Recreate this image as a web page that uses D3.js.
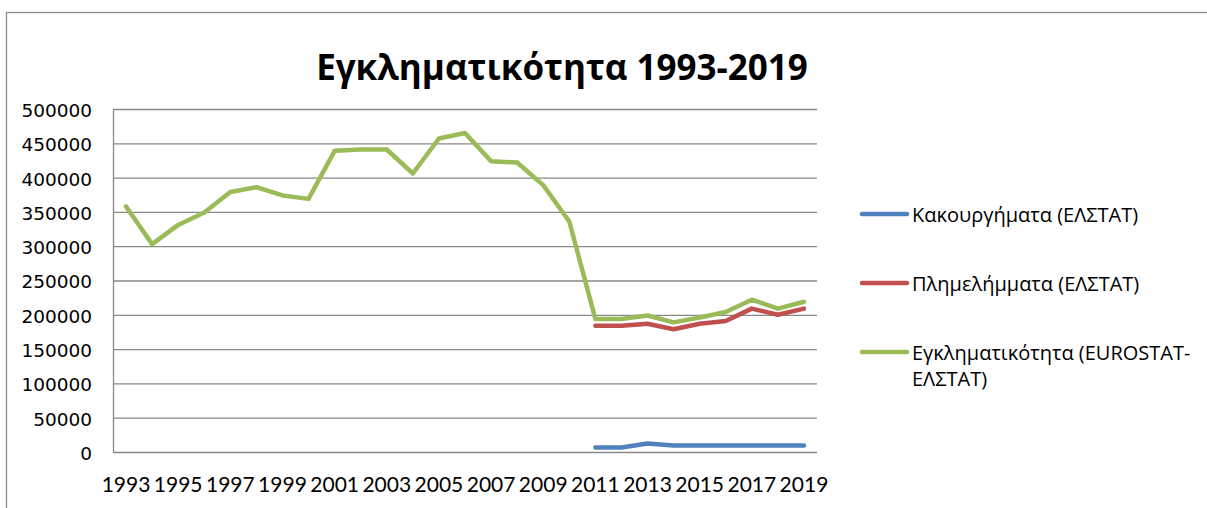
<!DOCTYPE html>
<html>
<head>
<meta charset="utf-8">
<script src="https://cdn.jsdelivr.net/npm/d3@7"></script>
<style>
  html, body { margin: 0; padding: 0; background: #ffffff; }
  svg { display: block; }
</style>
</head>
<body>
<svg id="chart" width="1207" height="508"></svg>
<script>
// ---- Data ----
const years = [1993, 1994, 1995, 1996, 1997, 1998, 1999, 2000, 2001, 2002, 2003, 2004, 2005, 2006,
               2007, 2008, 2009, 2010, 2011, 2012, 2013, 2014, 2015, 2016, 2017, 2018, 2019];
const xTickLabels = [1993, 1995, 1997, 1999, 2001, 2003, 2005, 2007, 2009, 2011, 2013, 2015, 2017, 2019];
const yTickValues = [0, 50000, 100000, 150000, 200000, 250000, 300000, 350000, 400000, 450000, 500000];

const seriesNames = ["Κακουργήματα (ΕΛΣΤΑΤ)", "Πλημελήμματα  (ΕΛΣΤΑΤ)", "Εγκληματικότητα (EUROSTAT-ΕΛΣΤΑΤ)"];
const felonies = [null, null, null, null, null, null, null, null, null, null, null, null, null, null,
                  null, null, null, null, 6500, 6500, 12500, 9500, 9500, 9500, 9500, 9500, 9500];
const misdemeanors = [null, null, null, null, null, null, null, null, null, null, null, null, null, null,
                      null, null, null, null, 184000, 184000, 187000, 179000, 187000, 191000, 209000, 200000, 209000];
const crimeTotal = [358000, 303000, 331000, 349000, 379000, 386000, 374000, 369000, 439000, 441000, 441000, 406000, 457000, 465000,
                    424000, 422000, 389000, 336000, 194000, 194000, 199000, 189000, 196000, 204000, 222000, 209000, 219000];
const seriesColors = ["#4F81BD", "#C0504D", "#9BBB59"];

// ---- Layout ----
const svg = d3.select("#chart");
const plot = { left: 113, right: 817, top: 109, bottom: 452 };
const gridColor = "#898989";

svg.append("rect").attr("x", 0).attr("y", 0).attr("width", 1207).attr("height", 508).attr("fill", "#fff");
// chart area border (extends past the image on right and bottom)
svg.append("rect")
  .attr("x", 6.5).attr("y", 12.5).attr("width", 1400).attr("height", 700)
  .attr("fill", "none").attr("stroke", "#8c8c8c").attr("stroke-width", 1.3);

// Title
svg.append("text")
  .attr("x", 562).attr("y", 80)
  .attr("text-anchor", "middle")
  .attr("font-family", "'Open Sans', 'Noto Sans', sans-serif")
  .attr("font-weight", 700)
  .attr("font-size", 35)
  .attr("fill", "#000")
  .text("Εγκληματικότητα 1993-2019");

// Scales
const x = d3.scaleBand().domain(years).range([plot.left, plot.right]).paddingInner(0).paddingOuter(0);
const y = d3.scaleLinear().domain([0, 500000]).range([plot.bottom, plot.top]);
const cx = d => x(d) + x.bandwidth() / 2;

// Y axis with gridlines
const yAxis = svg.append("g")
  .attr("transform", `translate(${plot.left},0)`)
  .call(d3.axisLeft(y).tickValues(yTickValues).tickSize(-(plot.right - plot.left)).tickSizeOuter(0).tickPadding(21).tickFormat(d3.format("d")));
yAxis.selectAll(".tick line").attr("stroke", gridColor).attr("stroke-width", 1.3);
yAxis.select(".domain").attr("stroke", gridColor).attr("stroke-width", 1.3);
yAxis.selectAll(".tick text")
  .attr("font-family", "'DejaVu Sans', sans-serif")
  .attr("font-size", 18.5)
  .attr("dy", "0.4em")
  .attr("fill", "#000");

// X axis labels
const xAxis = svg.append("g")
  .attr("transform", `translate(0,${plot.bottom})`)
  .call(d3.axisBottom(x).tickValues(xTickLabels).tickSize(0).tickPadding(25));
xAxis.select(".domain").remove();
xAxis.selectAll(".tick text")
  .attr("font-family", "Lato, 'Open Sans', sans-serif")
  .attr("font-size", 21)
  .attr("fill", "#000");

// Lines
const seriesData = [felonies, misdemeanors, crimeTotal];
const line = d3.line()
  .defined(d => d.v !== null)
  .x(d => cx(d.year))
  .y(d => y(d.v));

seriesData.forEach((vals, i) => {
  const pts = years.map((yr, j) => ({ year: yr, v: vals[j] }));
  svg.append("path")
    .datum(pts)
    .attr("d", line)
    .attr("fill", "none")
    .attr("stroke", seriesColors[i])
    .attr("stroke-width", 4.5)
    .attr("stroke-linejoin", "round")
    .attr("stroke-linecap", "round");
});

// Legend
const legendY = [214, 283, 352];
const legend = svg.append("g");
const legendFont = "'Open Sans', 'Noto Sans', sans-serif";
seriesNames.forEach((name, i) => {
  legend.append("line")
    .attr("x1", 862).attr("x2", 907)
    .attr("y1", legendY[i]).attr("y2", legendY[i])
    .attr("stroke", seriesColors[i]).attr("stroke-width", 4.5).attr("stroke-linecap", "round");
  const t = legend.append("text")
    .attr("x", 912).attr("y", legendY[i] + 8)
    .attr("font-family", legendFont)
    .attr("font-size", 20)
    .attr("fill", "#000");
  if (i === 2) {
    t.append("tspan").attr("x", 912).text("Εγκληματικότητα  (EUROSTAT-");
    t.append("tspan").attr("x", 912).attr("dy", 26).text("ΕΛΣΤΑΤ)");
  } else {
    t.text(name);
  }
});
</script>
</body>
</html>
